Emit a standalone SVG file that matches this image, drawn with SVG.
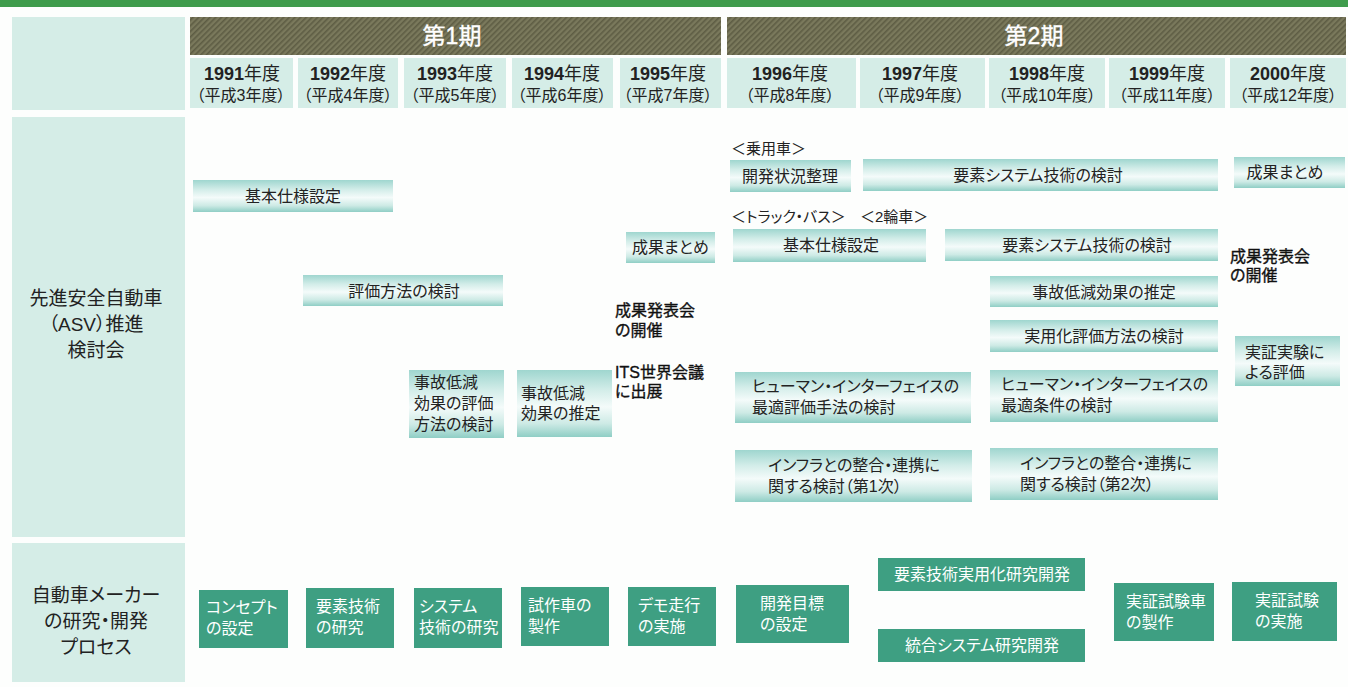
<svg xmlns="http://www.w3.org/2000/svg" width="1348" height="687" viewBox="0 0 1348 687">
<defs>
<linearGradient id="barGrad" x1="0" y1="0" x2="0" y2="1">
<stop offset="0" stop-color="#9fd6cf"/>
<stop offset="0.3" stop-color="#d3ede9"/>
<stop offset="0.55" stop-color="#f4fbfa"/>
<stop offset="0.8" stop-color="#cdeae5"/>
<stop offset="1" stop-color="#8fcec5"/>
</linearGradient>
<pattern id="hatch" width="4" height="4" patternUnits="userSpaceOnUse" patternTransform="rotate(45)">
<rect width="4" height="4" fill="#7a795c"/>
<rect width="1.6" height="4" fill="#5e5d44"/>
</pattern>
<style>
text{font-family:'Liberation Sans','Noto Sans CJK JP',sans-serif;fill:#222;font-feature-settings:"palt";}
.cell{fill:#d5ede7;}
.period{fill:url(#hatch);}
.ptxt{fill:#fff;font-size:23px;text-anchor:middle;stroke:#fff;stroke-width:0.4;}
.yr{font-size:18px;text-anchor:middle;}
.yr tspan.b{font-weight:bold;}
.hs{font-size:16px;text-anchor:middle;}
.lbl{font-size:19px;text-anchor:middle;}
.bar{fill:url(#barGrad);}
.bt{font-size:16px;}
.c{text-anchor:middle;}
.plain{font-size:16px;fill:#111;stroke:#111;stroke-width:0.35;}
.note{font-size:15px;}
.mk{fill:#3e9f82;}
.mt{fill:#fff;font-size:16px;}
</style>
</defs>
<rect width="1348" height="687" fill="#fdfefd"/>
<rect x="0" y="0" width="1348" height="7" fill="#3f9c4c"/>

<g id="header">
<rect class="cell" x="12" y="17" width="173" height="93"/>
<g id="period1"><rect class="period" x="190" y="17" width="531" height="38"/><text class="ptxt" x="452" y="44">第1期</text></g>
<g id="period2"><rect class="period" x="727" y="17" width="619" height="38"/><text class="ptxt" x="1034" y="44">第2期</text></g>
<g id="y1991"><rect class="cell" x="190" y="58" width="103" height="50"/><text class="yr" x="242" y="80"><tspan class="b">1991</tspan>年度</text><text class="hs" x="241" y="101">（平成3年度）</text></g>
<g id="y1992"><rect class="cell" x="298" y="58" width="100" height="50"/><text class="yr" x="348" y="80"><tspan class="b">1992</tspan>年度</text><text class="hs" x="348" y="101">（平成4年度）</text></g>
<g id="y1993"><rect class="cell" x="404" y="58" width="102" height="50"/><text class="yr" x="455" y="80"><tspan class="b">1993</tspan>年度</text><text class="hs" x="455" y="101">（平成5年度）</text></g>
<g id="y1994"><rect class="cell" x="512" y="58" width="101" height="50"/><text class="yr" x="562" y="80"><tspan class="b">1994</tspan>年度</text><text class="hs" x="562" y="101">（平成6年度）</text></g>
<g id="y1995"><rect class="cell" x="620" y="58" width="101" height="50"/><text class="yr" x="668" y="80"><tspan class="b">1995</tspan>年度</text><text class="hs" x="668" y="101">（平成7年度）</text></g>
<g id="y1996"><rect class="cell" x="727" y="58" width="129" height="50"/><text class="yr" x="790" y="80"><tspan class="b">1996</tspan>年度</text><text class="hs" x="790" y="101">（平成8年度）</text></g>
<g id="y1997"><rect class="cell" x="860" y="58" width="125" height="50"/><text class="yr" x="920" y="80"><tspan class="b">1997</tspan>年度</text><text class="hs" x="920" y="101">（平成9年度）</text></g>
<g id="y1998"><rect class="cell" x="989" y="58" width="116" height="50"/><text class="yr" x="1047" y="80"><tspan class="b">1998</tspan>年度</text><text class="hs" x="1047" y="101">（平成10年度）</text></g>
<g id="y1999"><rect class="cell" x="1109" y="58" width="116" height="50"/><text class="yr" x="1167" y="80"><tspan class="b">1999</tspan>年度</text><text class="hs" x="1167" y="101">（平成11年度）</text></g>
<g id="y2000"><rect class="cell" x="1230" y="58" width="116" height="50"/><text class="yr" x="1288" y="80"><tspan class="b">2000</tspan>年度</text><text class="hs" x="1288" y="101">（平成12年度）</text></g>
</g>

<g id="label-asv"><rect class="cell" x="12" y="117" width="173" height="420"/>
<text class="lbl" x="96" y="305">先進安全自動車</text><text class="lbl" x="96" y="331">（ASV）推進</text><text class="lbl" x="96" y="357">検討会</text></g>
<g id="label-maker"><rect class="cell" x="12" y="543" width="173" height="139"/>
<text class="lbl" x="96" y="602">自動車メーカー</text><text class="lbl" x="96" y="628">の研究・開発</text><text class="lbl" x="96" y="654">プロセス</text></g>

<g id="a1"><rect class="bar" x="193" y="180" width="200" height="32"/><text class="bt c" x="293" y="202">基本仕様設定</text></g>
<g id="a2"><rect class="bar" x="303" y="275" width="200" height="31"/><text class="bt c" x="404" y="297">評価方法の検討</text></g>
<g id="a3"><rect class="bar" x="409" y="370" width="95" height="68"/><text class="bt" x="414" y="388">事故低減</text><text class="bt" x="414" y="409">効果の評価</text><text class="bt" x="414" y="430">方法の検討</text></g>
<g id="a4"><rect class="bar" x="517" y="370" width="95" height="67"/><text class="bt" x="521" y="399">事故低減</text><text class="bt" x="521" y="419">効果の推定</text></g>
<g id="a5"><rect class="bar" x="626" y="232" width="89" height="31"/><text class="bt" x="632" y="253">成果まとめ</text></g>
<g id="a6"><text class="plain" x="615" y="316">成果発表会</text><text class="plain" x="615" y="336">の開催</text></g>
<g id="a7"><text class="plain" x="615" y="378">ITS世界会議</text><text class="plain" x="615" y="397">に出展</text></g>

<g id="n1"><text class="note" x="731" y="154">＜乗用車＞</text></g>
<g id="b1"><rect class="bar" x="730" y="160" width="121" height="32"/><text class="bt" x="742" y="182">開発状況整理</text></g>
<g id="b2"><rect class="bar" x="863" y="159" width="355" height="32"/><text class="bt c" x="1038" y="181">要素システム技術の検討</text></g>
<g id="b3"><rect class="bar" x="1234" y="157" width="111" height="31"/><text class="bt c" x="1285" y="178">成果まとめ</text></g>
<g id="n2"><text class="note" x="731" y="222">＜トラック・バス＞</text></g>
<g id="n3"><text class="note" x="860" y="222">＜2輪車＞</text></g>
<g id="b4"><rect class="bar" x="733" y="229" width="193" height="33"/><text class="bt c" x="831" y="251">基本仕様設定</text></g>
<g id="b5"><rect class="bar" x="945" y="229" width="273" height="32"/><text class="bt c" x="1087" y="251">要素システム技術の検討</text></g>
<g id="b6"><text class="plain" x="1230" y="262">成果発表会</text><text class="plain" x="1230" y="281">の開催</text></g>
<g id="b7"><rect class="bar" x="990" y="276" width="228" height="31"/><text class="bt c" x="1104" y="298">事故低減効果の推定</text></g>
<g id="b8"><rect class="bar" x="990" y="320" width="228" height="32"/><text class="bt c" x="1104" y="342">実用化評価方法の検討</text></g>
<g id="b9"><rect class="bar" x="1235" y="336" width="105" height="50"/><text class="bt" x="1245" y="358">実証実験に</text><text class="bt" x="1245" y="378">よる評価</text></g>
<g id="b10"><rect class="bar" x="735" y="372" width="236" height="51"/><text class="bt" x="752" y="392">ヒューマン・インターフェイスの</text><text class="bt" x="752" y="413">最適評価手法の検討</text></g>
<g id="b11"><rect class="bar" x="990" y="370" width="228" height="52"/><text class="bt" x="1001" y="390">ヒューマン・インターフェイスの</text><text class="bt" x="1001" y="411">最適条件の検討</text></g>
<g id="b12"><rect class="bar" x="735" y="450" width="237" height="52"/><text class="bt" x="768" y="471">インフラとの整合・連携に</text><text class="bt" x="768" y="492">関する検討（第1次）</text></g>
<g id="b13"><rect class="bar" x="990" y="448" width="228" height="52"/><text class="bt" x="1020" y="469">インフラとの整合・連携に</text><text class="bt" x="1020" y="490">関する検討（第2次）</text></g>

<g id="m1"><rect class="mk" x="199" y="590" width="89" height="58"/><text class="mt" x="206" y="613">コンセプト</text><text class="mt" x="206" y="634">の設定</text></g>
<g id="m2"><rect class="mk" x="306" y="588" width="88" height="60"/><text class="mt" x="316" y="612">要素技術</text><text class="mt" x="316" y="633">の研究</text></g>
<g id="m3"><rect class="mk" x="414" y="588" width="88" height="60"/><text class="mt" x="419" y="612">システム</text><text class="mt" x="419" y="633">技術の研究</text></g>
<g id="m4"><rect class="mk" x="521" y="587" width="88" height="59"/><text class="mt" x="528" y="611">試作車の</text><text class="mt" x="528" y="632">製作</text></g>
<g id="m5"><rect class="mk" x="628" y="587" width="88" height="59"/><text class="mt" x="638" y="611">デモ走行</text><text class="mt" x="638" y="632">の実施</text></g>
<g id="m6"><rect class="mk" x="736" y="585" width="113" height="58"/><text class="mt" x="760" y="609">開発目標</text><text class="mt" x="760" y="630">の設定</text></g>
<g id="m7"><rect class="mk" x="878" y="558" width="207" height="33"/><text class="mt c" x="982" y="580">要素技術実用化研究開発</text></g>
<g id="m8"><rect class="mk" x="878" y="629" width="207" height="33"/><text class="mt c" x="982" y="651">統合システム研究開発</text></g>
<g id="m9"><rect class="mk" x="1114" y="583" width="100" height="58"/><text class="mt" x="1126" y="607">実証試験車</text><text class="mt" x="1126" y="628">の製作</text></g>
<g id="m10"><rect class="mk" x="1232" y="582" width="105" height="59"/><text class="mt" x="1255" y="606">実証試験</text><text class="mt" x="1255" y="627">の実施</text></g>

<g id="connectors"></g>
</svg>
